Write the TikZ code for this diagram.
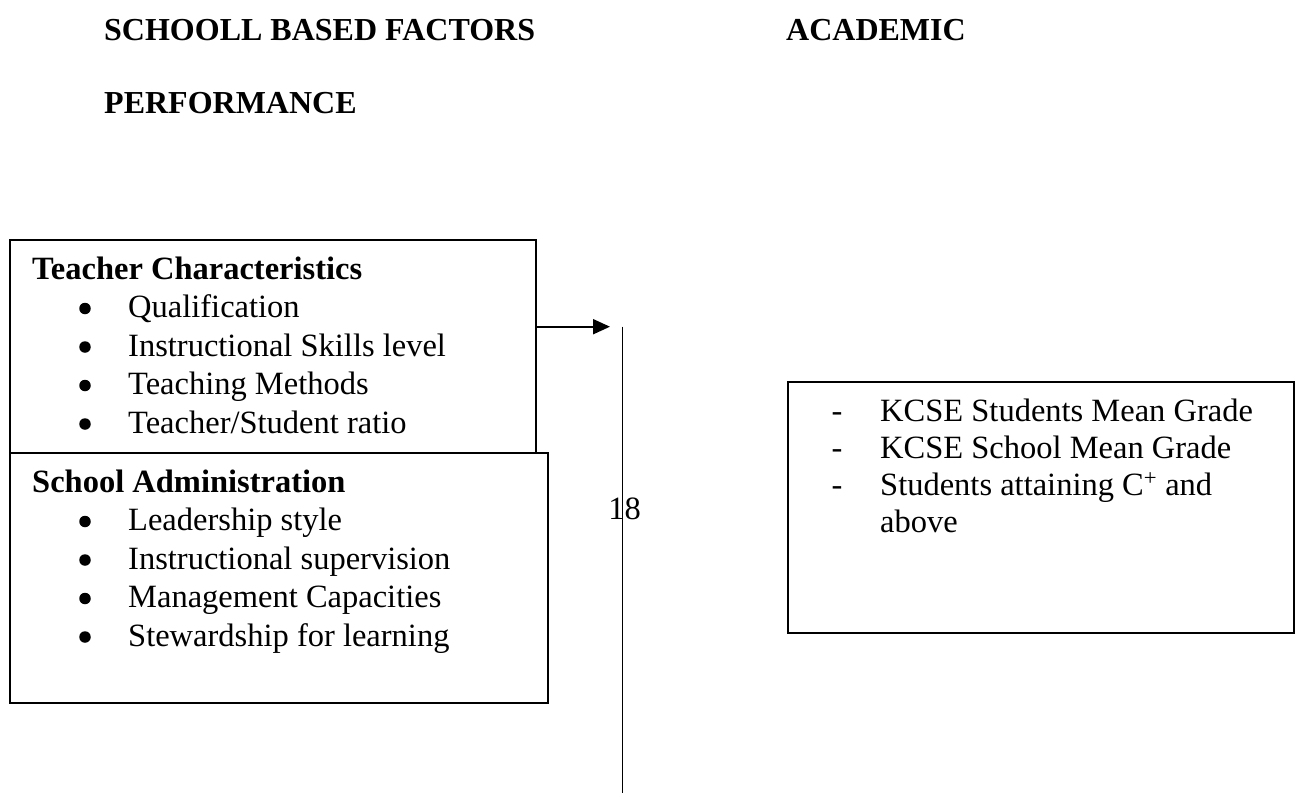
\documentclass[tikz,border=0pt]{standalone}
\usepackage{fontspec}
\setmainfont{Liberation Serif}
\usetikzlibrary{arrows.meta}
\tikzset{
every node/.style={inner sep=0pt, font=\fontsize{32.5}{38.5}\selectfont},
frame/.style={rectangle, draw=black, line width=1.6pt, anchor=north west},
heading/.style={anchor=base west, font=\fontsize{32}{38}\selectfont\bfseries},
boxtitle/.style={anchor=base west, font=\fontsize{32.5}{38.5}\selectfont\bfseries},
entry/.style={anchor=base west},
bullet/.style={circle, fill=black, minimum size=11.5pt},
hyphen/.style={anchor=base},
link/.style={line width=2pt, draw=black, -{Triangle[length=17pt,width=15pt]}},
rule/.style={line width=1.7pt, draw=black},
}

\begin{document}
\begin{tikzpicture}[x=1pt,y=-1pt]
\useasboundingbox (0,0) rectangle (1299,793);

% headings
\node[heading] (hleft) at (104,40) {SCHOOLL BASED FACTORS};
\node[heading] (hright) at (786,40) {ACADEMIC};
\node[heading] (hperf) at (104,113) {PERFORMANCE};

% independent variables
\node[frame, minimum width=526pt, minimum height=213pt] (teacher) at (9,239) {};
\node[boxtitle] (teachertitle) at (32,279) {Teacher Characteristics};
\foreach \txt [count=\i] in {Qualification, Instructional Skills level,
  Teaching Methods, Teacher/Student ratio} {
  \node[bullet] (tdot\i) at (85,279+38.5*\i-9) {};
  \node[entry] (titem\i) at (128,279+38.5*\i) {\txt};
}

\node[frame, minimum width=538pt, minimum height=250pt] (admin) at (9,452) {};
\node[boxtitle] (admintitle) at (32,492) {School Administration};
\foreach \txt [count=\i] in {Leadership style, Instructional supervision,
  Management Capacities, Stewardship for learning} {
  \node[bullet] (adot\i) at (85,492+38.5*\i-9) {};
  \node[entry] (aitem\i) at (128,492+38.5*\i) {\txt};
}

% dependent variable
\node[frame, minimum width=506pt, minimum height=251pt] (result) at (787,381) {};
\foreach \txt [count=\i] in {KCSE Students Mean Grade, KCSE School Mean Grade,
  {Students attaining C\textsuperscript{+} and}} {
  \node[hyphen] (rdash\i) at (837,421+37*\i-37) {-};
  \node[entry] (ritem\i) at (880,421+37*\i-37) {\txt};
}
\node[entry] (ritem4) at (880,532) {above};

% arrow and divider
\coordinate (tip) at (610,326.7);
\coordinate (rtop) at (622.5,326.7);
\coordinate (rbot) at (622.5,793);
\draw[link] (teacher.east |- tip) -- (tip);
\draw[rule] (rtop) -- (rbot);
\node[anchor=base] (pageno) at (624.5,519) {18};
\end{tikzpicture}
\end{document}
